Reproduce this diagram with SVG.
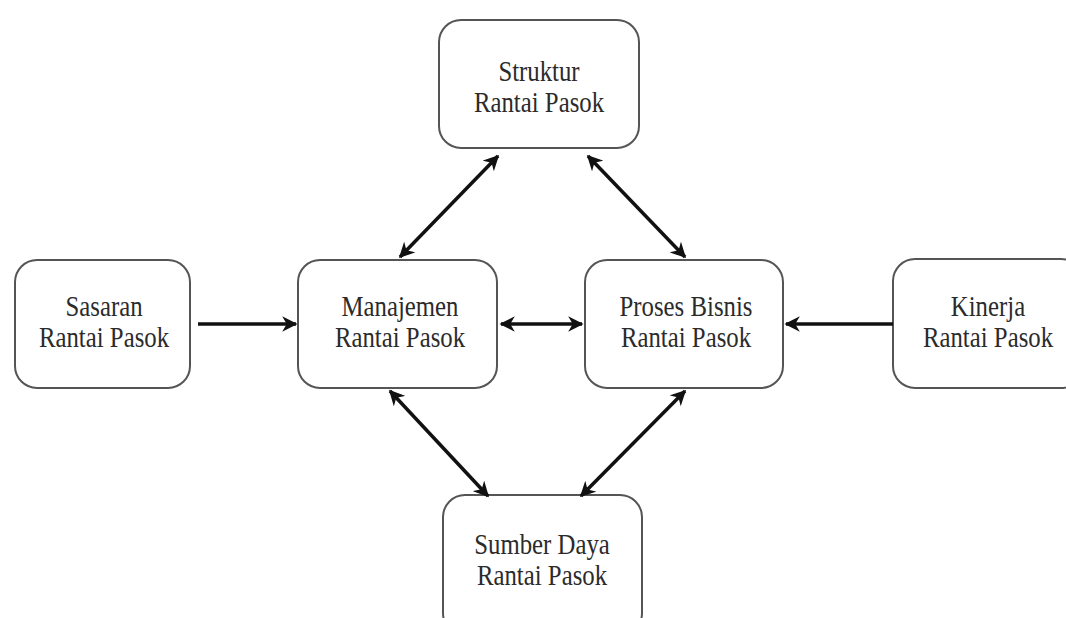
<svg xmlns="http://www.w3.org/2000/svg" width="1066" height="618" viewBox="0 0 1066 618">
<defs>
<style>
.box{fill:#fff;stroke:#555;stroke-width:2}
.t{fill:#2b2b2b;text-anchor:middle}
.c{stroke:#111;stroke-width:3.5;fill:none;marker-end:url(#ah)}
.d{marker-start:url(#ahs)}
</style>
<marker id="ah" viewBox="0 0 10 10" refX="9" refY="5" markerWidth="4.4" markerHeight="4.4" orient="auto" markerUnits="strokeWidth"><path d="M0,0 L10,5 L0,10 L3,5 z" fill="#111"/></marker>
<marker id="ahs" viewBox="0 0 10 10" refX="1" refY="5" markerWidth="4.4" markerHeight="4.4" orient="auto" markerUnits="strokeWidth"><path d="M10,0 L0,5 L10,10 L7,5 z" fill="#111"/></marker>
</defs>
<rect width="1066" height="618" fill="#fff"/>
<g font-family="Liberation Serif, serif" font-size="29">
<g id="struktur"><rect class="box" x="439" y="20" width="200" height="128" rx="22"/><text class="t" transform="matrix(0.855 0 0 1 539 81)">Struktur</text><text class="t" transform="matrix(0.855 0 0 1 539 112)">Rantai Pasok</text></g>
<g id="sasaran"><rect class="box" x="15" y="260" width="175" height="128" rx="22"/><text class="t" transform="matrix(0.855 0 0 1 104 316)">Sasaran</text><text class="t" transform="matrix(0.855 0 0 1 104 347)">Rantai Pasok</text></g>
<g id="manajemen"><rect class="box" x="298" y="260" width="199" height="128" rx="22"/><text class="t" transform="matrix(0.855 0 0 1 400 316)">Manajemen</text><text class="t" transform="matrix(0.855 0 0 1 400 347)">Rantai Pasok</text></g>
<g id="proses"><rect class="box" x="585" y="260" width="198" height="128" rx="22"/><text class="t" transform="matrix(0.855 0 0 1 686 316)">Proses Bisnis</text><text class="t" transform="matrix(0.855 0 0 1 686 347)">Rantai Pasok</text></g>
<g id="kinerja"><rect class="box" x="893" y="259" width="190" height="129" rx="22"/><text class="t" transform="matrix(0.855 0 0 1 988 316)">Kinerja</text><text class="t" transform="matrix(0.855 0 0 1 988 347)">Rantai Pasok</text></g>
<g id="sumber"><rect class="box" x="443" y="495" width="199" height="140" rx="22"/><text class="t" transform="matrix(0.855 0 0 1 542 554)">Sumber Daya</text><text class="t" transform="matrix(0.855 0 0 1 542 585)">Rantai Pasok</text></g>
</g>
<g id="connectors">
<line class="c" x1="198" y1="324" x2="296" y2="324"/>
<line class="c" x1="893" y1="324" x2="786" y2="324"/>
<line class="c d" x1="501" y1="324" x2="582" y2="324"/>
<line class="c d" x1="400" y1="257" x2="498" y2="156"/>
<line class="c d" x1="685" y1="257" x2="588" y2="156"/>
<line class="c d" x1="390" y1="391" x2="488" y2="496"/>
<line class="c d" x1="685" y1="391" x2="581" y2="496"/>
</g>
</svg>
